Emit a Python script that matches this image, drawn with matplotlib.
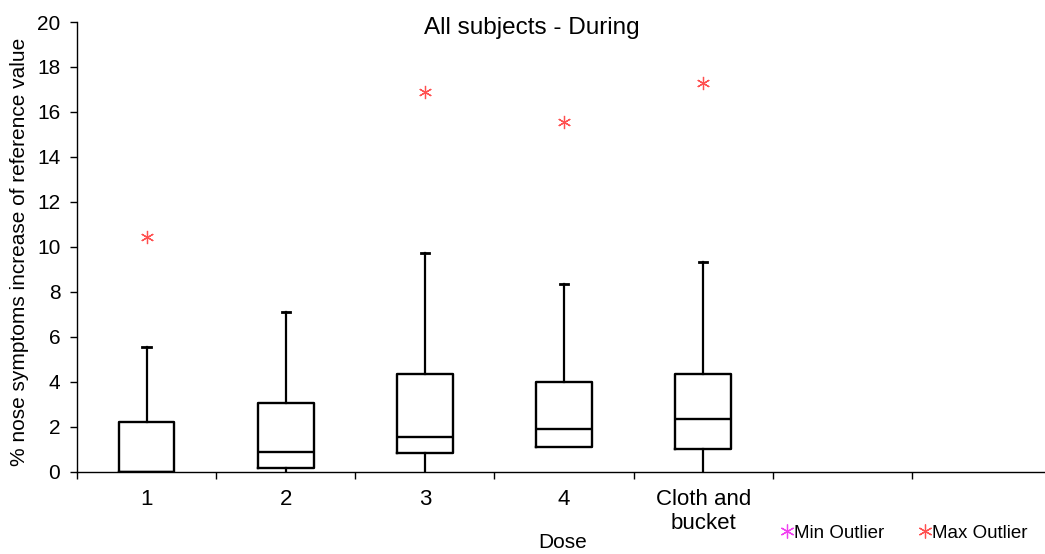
import matplotlib
matplotlib.use('Agg')
import matplotlib.pyplot as plt
from matplotlib.lines import Line2D

plt.rcParams['font.family'] = ['Liberation Sans', 'DejaVu Sans']

# ---- data ----
categories = ['1', '2', '3', '4', 'Cloth and\nbucket', '', '']
q1 = [0.0, 0.18, 0.85, 1.11, 1.01]
median = [0.0, 0.88, 1.54, 1.90, 2.34]
q3 = [2.22, 3.07, 4.36, 4.00, 4.33]
whisker_low = [0.0, 0.0, 0.0, 1.11, 0.0]
whisker_high = [5.56, 7.10, 9.73, 8.33, 9.34]
max_outliers = [[10.45], [], [16.88], [15.54], [17.30]]
yticks = list(range(0, 21, 2))

W, H = 1045, 554
fig = plt.figure(figsize=(W / 100, H / 100), dpi=100)
ax = fig.add_axes([77 / W, 1 - 471.7 / H, 974 / W, (471.7 - 22) / H])

stats = []
for i in range(len(q1)):
    stats.append(dict(label=categories[i], q1=q1[i], med=median[i], q3=q3[i],
                      whislo=whisker_low[i], whishi=whisker_high[i],
                      fliers=max_outliers[i]))

positions = list(range(1, len(q1) + 1))
bp = ax.bxp(stats, positions=positions, widths=0.4, capwidths=0.06,
            showfliers=True, manage_ticks=False,
            boxprops=dict(color='black', linewidth=1.7),
            whiskerprops=dict(color='black', linewidth=1.6),
            capprops=dict(color='black', linewidth=2.0),
            medianprops=dict(color='black', linewidth=1.7),
            flierprops=dict(marker=(6, 2, 0), markersize=9.5, markeredgecolor='#FF5050',
                            markerfacecolor='none', markeredgewidth=0.9, linestyle='none'))
for cap in bp['caps'][0::2]:
    cap.set_visible(False)

ax.set_xlim(0.5, len(categories) + 0.5)
ax.set_ylim(0, 20)
ax.set_xticks(range(1, len(categories) + 1))
ax.set_xticklabels(categories, linespacing=1.2)
ax.set_xticks([0.5 + i for i in range(len(categories) + 1)], minor=True)
ax.tick_params(axis='x', which='major', length=0, pad=12.5, labelsize=16)
ax.tick_params(axis='x', which='minor', length=5, width=1, direction='out')
ax.set_yticks(yticks)
ax.tick_params(axis='y', length=5, width=1, pad=7, labelsize=15)
for s in ['top', 'right']:
    ax.spines[s].set_visible(False)
for s in ['left', 'bottom']:
    ax.spines[s].set_linewidth(1.0)

fig.text(531.7 / W, 1 - 28.3 / H, 'All subjects - During', ha='center', va='center', fontsize=17.5)
fig.text(20 / W, 1 - 252 / H, '% nose symptoms increase of reference value',
         rotation=90, ha='center', va='center', fontsize=15)
fig.text(563 / W, 1 - 543 / H, 'Dose', ha='center', va='center', fontsize=15)

handles = [Line2D([], [], marker=(6, 2, 0), markersize=10, markeredgecolor='#F040F0',
                  markeredgewidth=0.9, linestyle='none'),
           Line2D([], [], marker=(6, 2, 0), markersize=10, markeredgecolor='#FF5050',
                  markeredgewidth=0.9, linestyle='none')]
fig.legend(handles, ['Min Outlier', 'Max Outlier'], ncol=2, loc='center',
           bbox_to_anchor=(905 / W, 1 - 533 / H), frameon=False, handlelength=0.5,
           handletextpad=0.15, columnspacing=1.9, fontsize=13.5)

fig.savefig('out.png', dpi=100)
